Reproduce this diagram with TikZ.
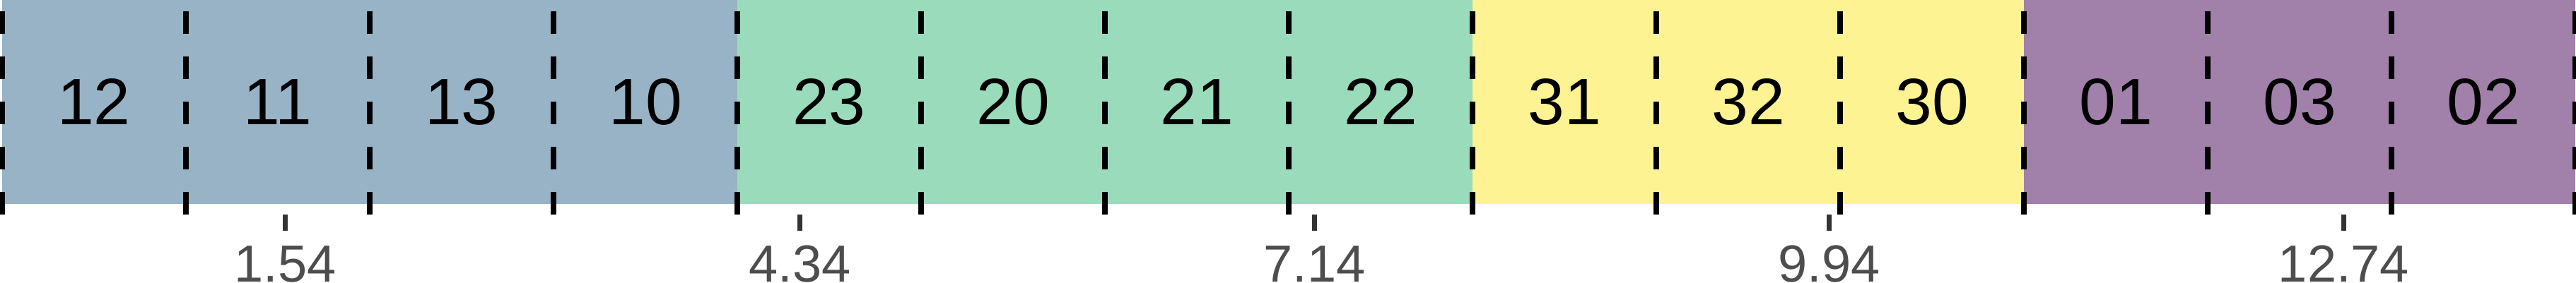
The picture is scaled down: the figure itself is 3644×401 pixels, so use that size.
\documentclass[tikz,border=0pt]{standalone}
\usepackage{fontspec}
\setmainfont{Liberation Sans}
\definecolor{cblue}{HTML}{98B3C6}
\definecolor{cgreen}{HTML}{9ADBBC}
\definecolor{cyellow}{HTML}{FEF392}
\definecolor{cpurple}{HTML}{A180AA}
\definecolor{tickgray}{HTML}{333333}
\definecolor{labgray}{HTML}{4D4D4D}
\tikzset{
  cell/.style={draw=none, inner sep=0pt, minimum width=26pt, minimum height=28.9pt, font=\fontsize{9.3pt}{9.3pt}\selectfont, text=black},
  divider/.style={black, line width=0.77pt, dash pattern=on 3.2pt off 3.2pt, line cap=butt},
  tickmark/.style={tickgray, line width=0.72pt, line cap=butt},
  ticklabel/.style={inner sep=0pt, anchor=base, text=labgray, font=\fontsize{7.4pt}{7.4pt}\selectfont}
}
\begin{document}
\begin{tikzpicture}[x=0.1pt,y=-0.1pt]
\useasboundingbox (0,0) rectangle (3644,401);
\fill[white] (0,0) rectangle (3644,401);
% cells
\foreach \lab/\col [count=\k from 0] in {12/cblue,11/cblue,13/cblue,10/cblue,23/cgreen,20/cgreen,21/cgreen,22/cgreen,31/cyellow,32/cyellow,30/cyellow,01/cpurple,03/cpurple,02/cpurple}{
  \node[cell, fill=\col] (c\k) at ({3+260*\k+130},144.5) {\lab};
}
% dashed dividers
\foreach \k in {0,...,14}{
  \coordinate (dt\k) at ({3+260*\k},16);
  \coordinate (db\k) at ({3+260*\k},304);
  \draw[divider] (dt\k) -- (db\k);
}
% axis ticks and labels
\foreach \v [count=\i] in {1.54,4.34,7.14,9.94,12.74}{
  \coordinate (tt\i) at ({3+260*\v},304);
  \coordinate (tb\i) at ({3+260*\v},327);
  \draw[tickmark] (tt\i) -- (tb\i);
  \node[ticklabel] (tl\i) at ({3+260*\v},400) {\v};
}
\end{tikzpicture}
\end{document}
